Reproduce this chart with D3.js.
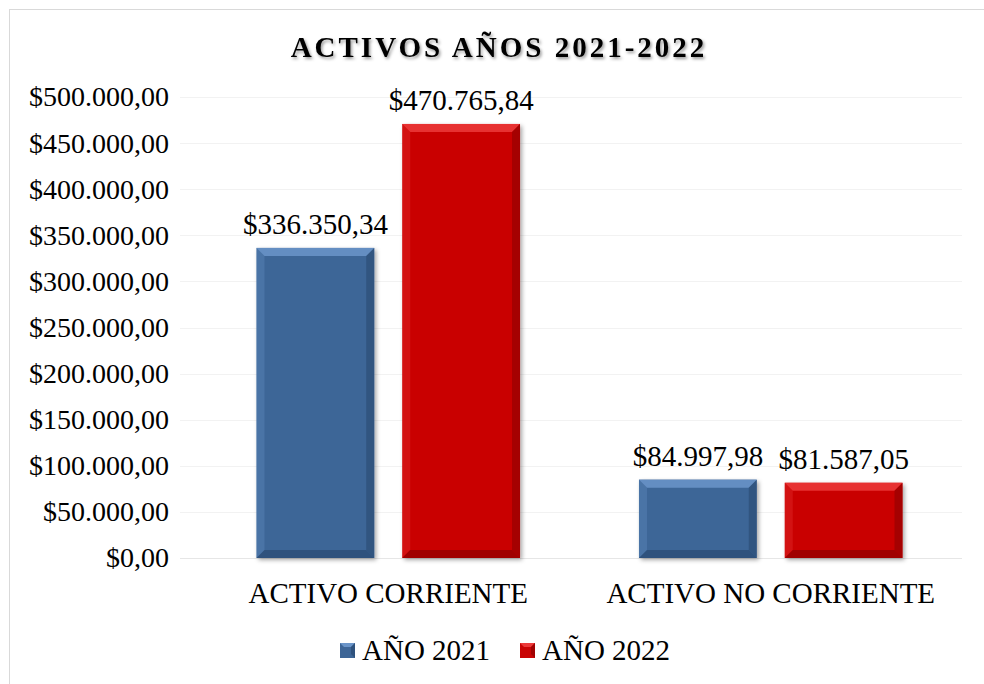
<!DOCTYPE html>
<html>
<head>
<meta charset="utf-8">
<script src="https://cdn.jsdelivr.net/npm/d3@7"></script>
<style>
  body { margin: 0; background: #fff; }
  text { font-family: "Liberation Serif", "Times New Roman", serif; }
</style>
</head>
<body>
<script>
// chart values
var categories = ["ACTIVO CORRIENTE", "ACTIVO NO CORRIENTE"];
var seriesNames = ["AÑO 2021", "AÑO 2022"];
var values2021 = [336350.34, 84997.98];
var values2022 = [470765.84, 81587.05];
var tickValues = [0, 50000, 100000, 150000, 200000, 250000, 300000, 350000, 400000, 450000, 500000];

var width = 984, height = 684;
var margin = {top: 97, right: 22, bottom: 126, left: 197};

var colors = {
  "AÑO 2021": {base: "#3e6697", light: "#6b95c9", dark: "#2a4a72"},
  "AÑO 2022": {base: "#c90505", light: "#ec3a3a", dark: "#8e0202"}
};

// number format like 336.350,34
var esLocale = d3.formatLocale({decimal: ",", thousands: ".", grouping: [3], currency: ["$", ""]});
var fmt = esLocale.format("$,.2f");

const svg = d3.select("body")
              .append("svg")
              .attr("width", width)
              .attr("height", height);

var defs = svg.append("defs");
var shadow = defs.append("filter").attr("id", "shadow")
  .attr("x", "-20%").attr("y", "-20%").attr("width", "150%").attr("height", "150%");
shadow.append("feDropShadow").attr("dx", 2).attr("dy", 2).attr("stdDeviation", 2)
  .attr("flood-color", "#000").attr("flood-opacity", 0.35);
var tshadow = defs.append("filter").attr("id", "tshadow");
tshadow.append("feDropShadow").attr("dx", 1.5).attr("dy", 2).attr("stdDeviation", 1.5)
  .attr("flood-color", "#000").attr("flood-opacity", 0.4);

// chart area border
svg.append("rect")
   .attr("x", 9.5).attr("y", 9.5)
   .attr("width", width + 10).attr("height", height + 10)
   .attr("fill", "#fff")
   .attr("stroke", "#d9d9d9");

var x0 = d3.scaleBand()
           .domain(categories)
           .range([margin.left, width - margin.right]);

var x1 = d3.scaleBand()
           .domain(seriesNames)
           .range([0, x0.bandwidth()])
           .paddingInner(0.192)
           .paddingOuter(0.408);

var y = d3.scaleLinear()
          .domain([0, 500000])
          .range([height - margin.bottom, margin.top]);

// gridlines
svg.append("g")
   .selectAll("line")
   .data(tickValues)
   .enter()
   .append("line")
   .attr("x1", margin.left - 17)
   .attr("x2", width - margin.right)
   .attr("y1", function(d) { return Math.round(y(d)) + 0.5; })
   .attr("y2", function(d) { return Math.round(y(d)) + 0.5; })
   .attr("stroke", function(d) { return d === 0 ? "#e6e6e6" : "#f2f2f2"; });

// y axis
var yAxis = svg.append("g")
   .attr("transform", "translate(" + (margin.left - 25) + ",0)")
   .call(d3.axisLeft(y).tickValues(tickValues).tickSize(0).tickFormat(fmt));
yAxis.select(".domain").remove();
yAxis.selectAll("text")
   .attr("font-family", "Liberation Serif")
   .attr("font-size", 28)
   .attr("fill", "#000");

// bars
var rows = [];
categories.forEach(function(c, i) {
  rows.push({cat: c, series: "AÑO 2021", value: values2021[i]});
  rows.push({cat: c, series: "AÑO 2022", value: values2022[i]});
});

var bev = 8;
var bars = svg.append("g")
  .selectAll("g")
  .data(rows)
  .enter()
  .append("g")
  .attr("transform", function(d) { return "translate(" + (x0(d.cat) + x1(d.series)) + "," + y(d.value) + ")"; });

bars.each(function(d) {
  var g = d3.select(this);
  var w = x1.bandwidth();
  var h = y(0) - y(d.value);
  var c = colors[d.series];
  g.append("rect").attr("width", w).attr("height", h).attr("fill", c.base).attr("filter", "url(#shadow)");
  // top bevel
  g.append("path").attr("d", "M0,0 H" + w + " L" + (w - bev) + "," + bev + " H" + bev + " Z").attr("fill", c.light).attr("opacity", 0.85);
  // left bevel
  g.append("path").attr("d", "M0,0 L" + bev + "," + bev + " V" + (h - bev) + " L0," + h + " Z").attr("fill", c.light).attr("opacity", 0.3);
  // right bevel
  g.append("path").attr("d", "M" + w + ",0 V" + h + " L" + (w - bev) + "," + (h - bev) + " V" + bev + " Z").attr("fill", c.dark).attr("opacity", 0.6);
  // bottom bevel
  g.append("path").attr("d", "M0," + h + " H" + w + " L" + (w - bev) + "," + (h - bev) + " H" + bev + " Z").attr("fill", c.dark).attr("opacity", 0.7);
});

// value labels
bars.append("text")
  .attr("x", x1.bandwidth() / 2)
  .attr("y", -14)
  .attr("text-anchor", "middle")
  .attr("font-size", 29)
  .text(function(d) { return fmt(d.value); });

// x axis labels
svg.append("g")
  .selectAll("text")
  .data(categories)
  .enter()
  .append("text")
  .attr("x", function(d) { return x0(d) + x0.bandwidth() / 2; })
  .attr("y", 603)
  .attr("text-anchor", "middle")
  .attr("font-size", 29)
  .text(function(d) { return d; });

// title
svg.append("text")
  .attr("x", 499)
  .attr("y", 57)
  .attr("text-anchor", "middle")
  .attr("font-size", 29)
  .attr("font-weight", "bold")
  .attr("letter-spacing", 3)
  .attr("filter", "url(#tshadow)")
  .text("ACTIVOS AÑOS 2021-2022");

// legend
var legendX = [340, 520];
var legend = svg.append("g")
  .selectAll("g")
  .data(seriesNames)
  .enter()
  .append("g")
  .attr("transform", function(d, i) { return "translate(" + legendX[i] + ",643)"; });
legend.append("rect").attr("width", 15).attr("height", 15)
  .attr("fill", function(d) { return colors[d].base; });
legend.append("path").attr("d", "M0,0 H15 L11,4 H4 Z")
  .attr("fill", function(d) { return colors[d].light; });
legend.append("path").attr("d", "M15,0 V15 L11,11 V4 Z")
  .attr("fill", function(d) { return colors[d].dark; }).attr("opacity", 0.7);
legend.append("text")
  .attr("x", 22)
  .attr("y", 17)
  .attr("font-size", 29)
  .text(function(d) { return d; });
</script>
</body>
</html>
